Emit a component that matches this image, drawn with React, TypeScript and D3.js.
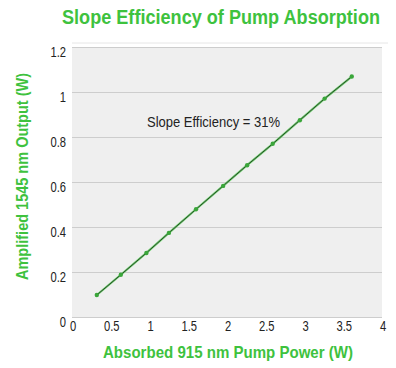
import React, { useRef, useEffect } from "react"
import * as d3 from "d3"

const pumpPower = [0.32, 0.63, 0.96, 1.25, 1.6, 1.95, 2.26, 2.59, 2.94, 3.26, 3.61]
const outputPower = [0.1, 0.19, 0.287, 0.376, 0.481, 0.585, 0.677, 0.772, 0.877, 0.973, 1.071]
const xTicks = [0, 0.5, 1, 1.5, 2, 2.5, 3, 3.5, 4]
const yTicks = [0, 0.2, 0.4, 0.6, 0.8, 1, 1.2]

const FONT = "'Liberation Sans', Arial, sans-serif"
const GREEN = "#3ec23e"
const SQUEEZE = 0.8 // narrow look for tick labels

const App: React.FC = () => {
  const svgRef = useRef<SVGSVGElement | null>(null)
  const width = 396
  const height = 368

  useEffect(() => {
    if (!svgRef.current) return
    const svg = d3.select(svgRef.current)
    svg.selectAll("*").remove()

    const x = d3.scaleLinear().domain([0, 4]).range([72, 382])
    const y = d3.scaleLinear().domain([0, 1.2]).range([317.5, 47.5])

    // faint frame line above plot
    svg.append("line")
      .attr("x1", 72).attr("x2", 388).attr("y1", 43).attr("y2", 43)
      .attr("stroke", "#e6e6e6")

    // plot background
    svg.append("rect")
      .attr("x", x(0)).attr("y", y(1.2))
      .attr("width", x(4) - x(0)).attr("height", y(0) - y(1.2))
      .attr("fill", "#efefef")

    // gridlines
    svg.append("g")
      .selectAll("line")
      .data(yTicks)
      .join("line")
      .attr("x1", x(0)).attr("x2", x(4))
      .attr("y1", (d) => y(d)).attr("y2", (d) => y(d))
      .attr("stroke", "#cdcdcd")

    // y tick labels
    svg.append("g")
      .attr("transform", `scale(${SQUEEZE},1)`)
      .selectAll("text")
      .data(yTicks)
      .join("text")
      .attr("x", 66 / SQUEEZE)
      .attr("y", (d) => y(d) + 5)
      .attr("dy", "0.35em")
      .attr("text-anchor", "end")
      .style("font-family", FONT)
      .style("font-size", "14px")
      .style("fill", "#222")
      .text((d) => d3.format("")(d))

    // x tick labels
    svg.append("g")
      .attr("transform", `scale(${SQUEEZE},1)`)
      .selectAll("text")
      .data(xTicks)
      .join("text")
      .attr("x", (d) => (x(d) + 1) / SQUEEZE)
      .attr("y", 326)
      .attr("dy", "0.35em")
      .attr("text-anchor", "middle")
      .style("font-family", FONT)
      .style("font-size", "14px")
      .style("fill", "#222")
      .text((d) => d3.format("")(d))

    const data = pumpPower.map((p, i) => ({ p, o: outputPower[i] }))
    const line = d3.line<{ p: number; o: number }>()
      .x((d) => x(d.p))
      .y((d) => y(d.o))

    svg.append("path")
      .datum(data)
      .attr("fill", "none")
      .attr("stroke", "#6fcf6f")
      .attr("stroke-width", 2.2)
      .attr("d", line)
    svg.append("path")
      .datum(data)
      .attr("fill", "none")
      .attr("stroke", "#1f3a1f")
      .attr("stroke-width", 0.9)
      .attr("d", line)

    svg.append("g")
      .selectAll("circle")
      .data(data)
      .join("circle")
      .attr("cx", (d) => x(d.p))
      .attr("cy", (d) => y(d.o))
      .attr("r", 2.2)
      .attr("fill", "#3aa63a")

    // annotation
    svg.append("text")
      .attr("x", 147)
      .attr("y", 122)
      .attr("dy", "0.35em")
      .attr("textLength", 133)
      .attr("lengthAdjust", "spacingAndGlyphs")
      .style("font-family", FONT)
      .style("font-size", "15px")
      .style("fill", "#222")
      .text("Slope Efficiency = 31%")

    // title: smaller font stretched vertically to get the narrow look
    svg.append("text")
      .attr("transform", "translate(62,24) scale(1,1.15)")
      .attr("x", 0)
      .attr("y", 0)
      .attr("textLength", 318)
      .attr("lengthAdjust", "spacingAndGlyphs")
      .style("font-family", FONT)
      .style("font-size", "17.5px")
      .style("font-weight", "bold")
      .style("fill", GREEN)
      .text("Slope Efficiency of Pump Absorption")

    // x axis label
    svg.append("text")
      .attr("x", 103)
      .attr("y", 358)
      .attr("textLength", 250)
      .attr("lengthAdjust", "spacingAndGlyphs")
      .style("font-family", FONT)
      .style("font-size", "17px")
      .style("font-weight", "bold")
      .style("fill", GREEN)
      .text("Absorbed 915 nm Pump Power (W)")

    // y axis label
    svg.append("text")
      .attr("transform", "rotate(-90)")
      .attr("x", -280)
      .attr("y", 28)
      .attr("textLength", 207)
      .attr("lengthAdjust", "spacingAndGlyphs")
      .style("font-family", FONT)
      .style("font-size", "17px")
      .style("font-weight", "bold")
      .style("fill", GREEN)
      .text("Amplified 1545 nm Output (W)")
  }, [])

  return (
    <svg
      ref={svgRef}
      width={width}
      height={height}
      style={{ position: "absolute", left: 0, top: 0, background: "#fff" }}
    ></svg>
  )
}

export default App
